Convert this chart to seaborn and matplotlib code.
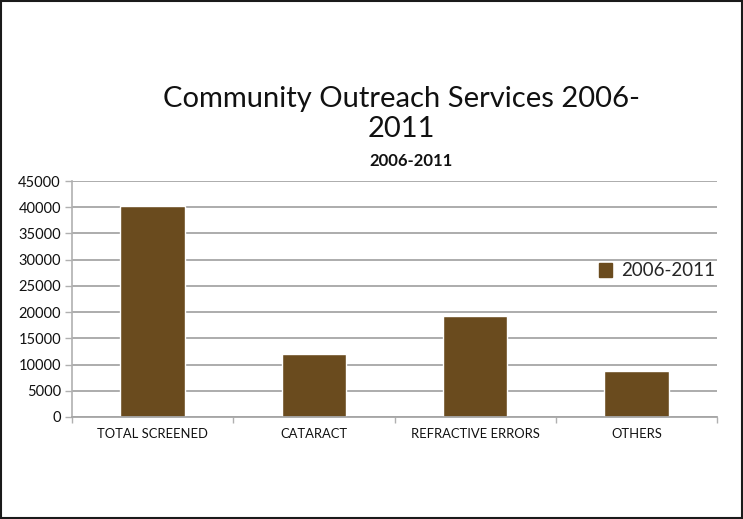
import matplotlib
matplotlib.use("Agg")
import matplotlib.pyplot as plt
import seaborn as sns
import pandas as pd
from matplotlib.patches import Rectangle

categories = ["TOTAL SCREENED", "CATARACT", "REFRACTIVE ERRORS", "OTHERS"]
values = [40200, 11950, 19300, 8800]
series_name = "2006-2011"
yticks = [0, 5000, 10000, 15000, 20000, 25000, 30000, 35000, 40000, 45000]

sns.set_theme(style="white")
plt.rcParams['font.family'] = ['Lato', 'DejaVu Sans']

W, H = 743, 519
fig = plt.figure(figsize=(W / 100, H / 100), dpi=100)
ax = fig.add_axes([72 / W, (H - 417) / H, (717 - 72) / W, (417 - 181) / H])

df = pd.DataFrame({"cat": categories, "val": values, "series": series_name})
bar_color = "#6A4B1E"
sns.barplot(data=df, x="cat", y="val", hue="series", palette=[bar_color],
            width=0.40, ax=ax, legend=False, saturation=1)

ax.set_ylim(0, 45000)
ax.set_xlim(-0.5, len(categories) - 0.5)
ax.set_yticks(yticks)
ax.set_yticklabels([str(t) for t in yticks], fontsize=10.5, color="#111111")
ax.set_xticks(range(len(categories)))
ax.set_xticklabels(categories, fontsize=9.4, color="#111111")
ax.set_xlabel("")
ax.set_ylabel("")

ax.yaxis.grid(True, color="#A6A6A6", linewidth=1.3)
ax.set_axisbelow(True)
for s in ["top", "right"]:
    ax.spines[s].set_visible(False)
ax.spines["left"].set_color("#B0B0B0")
ax.spines["left"].set_linewidth(1.2)
ax.spines["bottom"].set_color("#A6A6A6")
ax.spines["bottom"].set_linewidth(1.3)

# y tick marks
ax.tick_params(axis="y", length=5, width=1, color="#B0B0B0", pad=3, left=True)
# x: no tick marks at labels; minor ticks at category boundaries
ax.tick_params(axis="x", length=0, pad=8)
ax.set_xticks([i + 0.5 for i in range(len(categories) - 1)] + [-0.5, len(categories) - 0.5], minor=True)
ax.tick_params(axis="x", which="minor", length=4, width=1, color="#B0B0B0", bottom=True)

# legend
handle = Rectangle((0, 0), 1, 1, color=bar_color)
ax.legend([handle], [series_name], loc="center right", bbox_to_anchor=(1.0, (271 - 417) / (181 - 417)),
          frameon=False, fontsize=13.5, handlelength=0.7, handleheight=0.7, handletextpad=0.5,
          borderaxespad=0.0, borderpad=0.1)

# titles
fig.text(401 / W, 1 - 99 / H, "Community Outreach Services 2006-", ha="center", va="center",
         fontsize=21, color="#111111")
fig.text(401 / W, 1 - 129 / H, "2011", ha="center", va="center",
         fontsize=21, color="#111111")
fig.text(411 / W, 1 - 161 / H, "2006-2011", ha="center", va="center",
         fontsize=12, fontweight="bold", color="#111111")

# outer border
fig.patches.append(Rectangle((0.0015, 0.002), 0.997, 0.996, transform=fig.transFigure,
                             fill=False, edgecolor="#1A1A1A", linewidth=1.5))

fig.savefig("out.png", dpi=100, facecolor="white")
